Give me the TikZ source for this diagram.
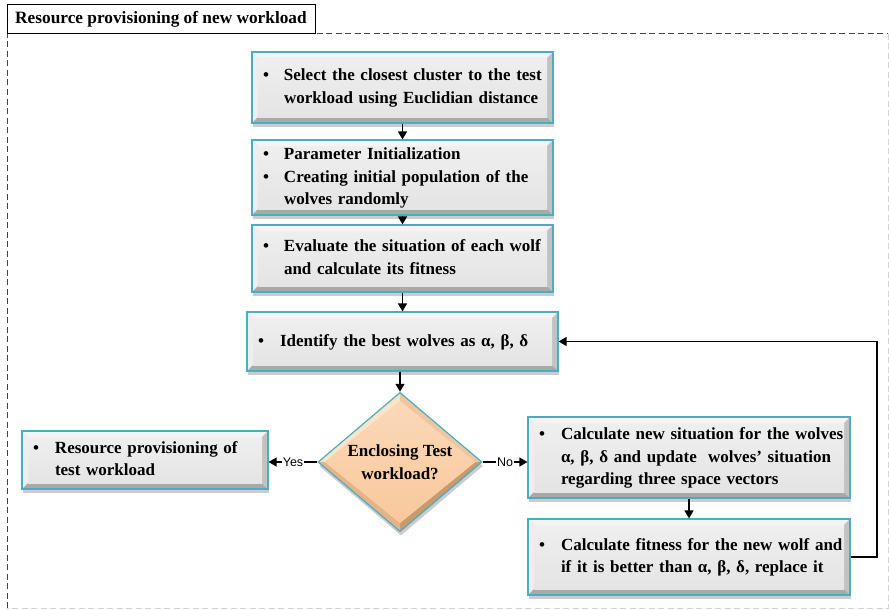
\documentclass[tikz,border=0pt]{standalone}
\usepackage{fontspec}
\setmainfont{Liberation Serif}
\newfontfamily\labelfont{Liberation Sans}
\usetikzlibrary{arrows.meta,shapes.geometric,shadows,calc}

\definecolor{edgeblue}{HTML}{4BACC6}
\definecolor{facegray}{HTML}{E4E4E4}
\definecolor{topband}{HTML}{F4F4F4}
\definecolor{leftband}{HTML}{EEEEEE}
\definecolor{botband}{HTML}{A9A9A9}
\definecolor{rightband}{HTML}{C2C2C2}
\definecolor{tanface}{HTML}{F9C89B}
\definecolor{tanlight}{HTML}{FDE3C8}
\definecolor{tandark}{HTML}{C99A6C}
\definecolor{tanmid}{HTML}{E6B386}
\definecolor{framegray}{HTML}{444444}

\tikzset{
  boxtext/.style={font=\bfseries\fontsize{17}{22.5}\selectfont},
  bevelbox/.style={
    rectangle, draw=edgeblue, line width=1.2pt, fill=facegray,
    inner xsep=11pt, inner ysep=0pt, align=left, boxtext,
    drop shadow={shadow xshift=1pt, shadow yshift=-4pt, opacity=0.4},
    path picture={
      \path (path picture bounding box.north west) coordinate (bvo1)
            (path picture bounding box.north east) coordinate (bvo2)
            (path picture bounding box.south east) coordinate (bvo3)
            (path picture bounding box.south west) coordinate (bvo4);
      \path ($(bvo1)+(6pt,-6pt)$) coordinate (bvi1)
            ($(bvo2)+(-6pt,-6pt)$) coordinate (bvi2)
            ($(bvo3)+(-6pt,6pt)$) coordinate (bvi3)
            ($(bvo4)+(6pt,6pt)$) coordinate (bvi4);
      \fill[topband] (bvo1) -- (bvo2) -- (bvi2) -- (bvi1) -- cycle;
      \fill[leftband] (bvo1) -- (bvi1) -- (bvi4) -- (bvo4) -- cycle;
      \fill[botband] (bvo4) -- (bvi4) -- (bvi3) -- (bvo3) -- cycle;
      \fill[rightband] (bvo2) -- (bvo3) -- (bvi3) -- (bvi2) -- cycle;
      \shade[top color=facegray!60!white, bottom color=facegray] (bvi1) rectangle (bvi3);
    }},
  decision/.style={
    diamond, draw=edgeblue, line width=1.2pt, fill=tanface, inner sep=0pt,
    align=center, boxtext,
    drop shadow={shadow xshift=1pt, shadow yshift=-4pt, opacity=0.4},
    path picture={
      \path (path picture bounding box.center) coordinate (dmc)
            (path picture bounding box.north) coordinate (dmn)
            (path picture bounding box.east) coordinate (dme)
            (path picture bounding box.south) coordinate (dms)
            (path picture bounding box.west) coordinate (dmw);
      \path ($(dmc)!0.88!(dmn)$) coordinate (dmN)
            ($(dmc)!0.92!(dme)$) coordinate (dmE)
            ($(dmc)!0.88!(dms)$) coordinate (dmS)
            ($(dmc)!0.92!(dmw)$) coordinate (dmW);
      \fill[tanlight] (dmn) -- (dmw) -- (dmW) -- (dmN) -- cycle;
      \fill[tanmid!60!tanlight] (dmn) -- (dmN) -- (dmE) -- (dme) -- cycle;
      \fill[tandark] (dme) -- (dmE) -- (dmS) -- (dms) -- cycle;
      \fill[tanmid] (dms) -- (dmS) -- (dmW) -- (dmw) -- cycle;
      \shade[top color=tanface!70!white, bottom color=tanface] (dmN) -- (dmE) -- (dmS) -- (dmW) -- cycle;
    }},
  arr/.style={-{Triangle[width=9pt,length=8pt]}, line width=1.4pt, black},
  branch/.style={font=\labelfont\fontsize{12.5}{13}\selectfont, fill=white, inner sep=1pt},
  titlebox/.style={draw=black, line width=1pt, fill=white, inner sep=0pt,
    font=\bfseries\fontsize{17.3}{20}\selectfont},
  frameline/.style={draw=framegray, line width=1pt, dash pattern=on 6pt off 3.5pt},
  faintline/.style={draw=gray!35, line width=0.8pt, dash pattern=on 6pt off 3.5pt},
}

\begin{document}
\begin{tikzpicture}[x=1pt, y=-1pt]
  \useasboundingbox (0,0) rectangle (889,610);

  % outer dashed frame of the section
  \path[faintline] (888,34) -- (888,608) -- (7,608);
  \path[frameline] (7,608) -- (7,34) -- (888,34);

  % section title
  \node[titlebox, minimum width=308, minimum height=29] (title) at (161,19.5)
    {Resource provisioning of new workload};

  % main column of steps
  \node[bevelbox, minimum width=301, minimum height=71, text width=279] (select) at (402.5,87.5)
    {\begin{tabular}{@{}p{21pt}@{}l@{}}\textbullet & Select the closest cluster to the test\\ & workload using Euclidian distance\end{tabular}};

  \node[bevelbox, minimum width=301, minimum height=75, text width=279] (init) at (402.5,177.5)
    {\begin{tabular}{@{}p{21pt}@{}l@{}}\textbullet & Parameter Initialization\\ \textbullet & Creating initial population of the\\ & wolves randomly\end{tabular}};

  \node[bevelbox, minimum width=301, minimum height=67, text width=279] (evaluate) at (402.5,258.5)
    {\begin{tabular}{@{}p{21pt}@{}l@{}}\textbullet & Evaluate the situation of each wolf\\ & and calculate its fitness\end{tabular}};

  \node[bevelbox, minimum width=311, minimum height=59, text width=289] (best) at (402.5,341.5)
    {\begin{tabular}{@{}p{22pt}@{}l@{}}\textbullet & Identify the best wolves as α, β, δ\end{tabular}};

  % decision
  \node[decision, minimum width=164, minimum height=128] (enclose) at (400,462)
    {Enclosing Test\\workload?};

  % yes branch
  \node[bevelbox, minimum width=246, minimum height=58, text width=224] (provision) at (145,460)
    {\begin{tabular}{@{}p{22pt}@{}l@{}}\textbullet & Resource provisioning of\\ & test workload\end{tabular}};

  % no branch
  \node[bevelbox, minimum width=322, minimum height=81, text width=300] (update) at (689,457.5)
    {\begin{tabular}{@{}p{22pt}@{}l@{}}\textbullet & Calculate new situation for the wolves\\ & α, β, δ and update \ wolves’ situation\\ & regarding three space vectors\end{tabular}};

  \node[bevelbox, minimum width=322, minimum height=76, text width=300] (fitness) at (689,557)
    {\begin{tabular}{@{}p{22pt}@{}l@{}}\textbullet & Calculate fitness for the new wolf and\\ & if it is better than α, β, δ, replace it\end{tabular}};

  % connectors
  \draw[arr] (select) -- (init);
  \draw[arr] (init) -- (evaluate);
  \draw[arr] (evaluate) -- (best);
  \draw[arr] (best.south -| enclose.north) -- (enclose.north);
  \draw[arr] (enclose.west) -- node[branch] (yeslbl) {Yes} (provision.east |- enclose.west);
  \draw[arr] (enclose.east) -- node[branch] (nolbl) {No} (update.west |- enclose.east);
  \draw[arr] (update.south -| fitness.north) -- (fitness.north);

  % loop back to the selection of the leading wolves
  \coordinate (rail) at (877,0);
  \draw[arr] (fitness.east) -- (fitness.east -| rail) -- (rail |- best.east) -- (best.east);
\end{tikzpicture}
\end{document}
